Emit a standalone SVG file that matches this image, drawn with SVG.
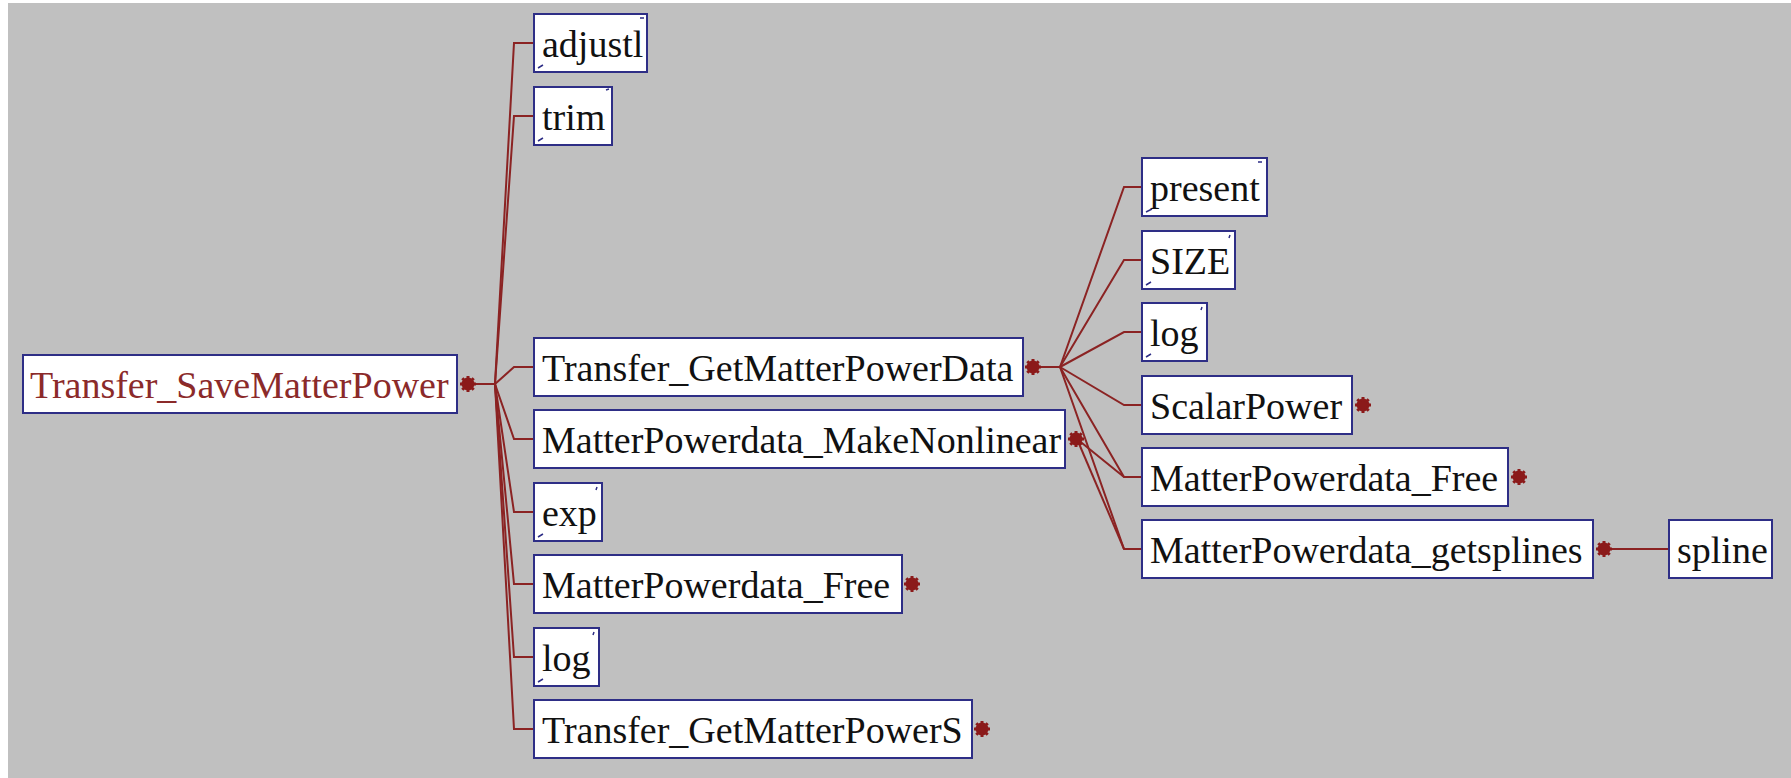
<svg xmlns="http://www.w3.org/2000/svg" width="1791" height="778" viewBox="0 0 1791 778">
<defs>
<style>
.bg{fill:#c0c0c0}
.box{fill:#ffffff;stroke:#2e2e86;stroke-width:2}
.t{font-family:'Liberation Serif','Times New Roman',serif;font-size:38px;fill:#111111}
.root{fill:#8b2a2a}
.ln{fill:none;stroke:#8b2323;stroke-width:2}
.mk{fill:none;stroke:#2e2e86;stroke-width:1.5}
</style>
<g id="cog"><circle r="6.5" fill="#8b1a1a"/><path d="M-8,0H8M0,-8V8M-5.7,-5.7L5.7,5.7M-5.7,5.7L5.7,-5.7" stroke="#8b1a1a" stroke-width="3" fill="none"/></g>
</defs>
<rect x="0" y="0" width="1791" height="778" fill="#ffffff"/>
<rect class="bg" x="8" y="3" width="1783" height="775"/>
<g id="connectors">
<path class="ln" d="M468,384 H495"/>
<path class="ln" d="M495,384 L514,43 H534"/>
<path class="ln" d="M495,384 L514,116 H534"/>
<path class="ln" d="M495,384 L514,367 H534"/>
<path class="ln" d="M495,384 L514,439 H534"/>
<path class="ln" d="M495,384 L514,512 H534"/>
<path class="ln" d="M495,384 L514,584 H534"/>
<path class="ln" d="M495,384 L514,657 H534"/>
<path class="ln" d="M495,384 L514,729 H534"/>
<path class="ln" d="M1033,367 H1060"/>
<path class="ln" d="M1060,367 L1124,187 H1142"/>
<path class="ln" d="M1060,367 L1124,260 H1142"/>
<path class="ln" d="M1060,367 L1124,332 H1142"/>
<path class="ln" d="M1060,367 L1124,405 H1142"/>
<path class="ln" d="M1060,367 L1124,477 H1142"/>
<path class="ln" d="M1060,367 L1124,549 H1142"/>
<path class="ln" d="M1077,439 L1124,477"/>
<path class="ln" d="M1077,439 L1124,549"/>
<path class="ln" d="M1604,549 H1669"/>
</g>
<g id="n_root"><rect class="box" x="23" y="355" width="434" height="58"/><text class="t root" x="30" y="398">Transfer_SaveMatterPower</text><use href="#cog" x="468" y="384"/></g>
<g id="n_adjustl"><rect class="box" x="534" y="14" width="113" height="58"/><text class="t" x="542" y="57">adjustl</text><path class="mk" d="M640,18 l4,0 M538,68 l5,-3"/></g>
<g id="n_trim"><rect class="box" x="534" y="87" width="78" height="58"/><text class="t" x="542" y="130">trim</text><path class="mk" d="M606,90 l3,-1 M538,141 l5,-3"/></g>
<g id="n_tgmpd"><rect class="box" x="534" y="338" width="489" height="58"/><text class="t" x="542" y="381">Transfer_GetMatterPowerData</text><use href="#cog" x="1033" y="367"/></g>
<g id="n_mknl"><rect class="box" x="534" y="410" width="531" height="58"/><text class="t" x="542" y="453">MatterPowerdata_MakeNonlinear</text><use href="#cog" x="1076" y="439"/></g>
<g id="n_exp"><rect class="box" x="534" y="483" width="68" height="58"/><text class="t" x="542" y="526">exp</text><path class="mk" d="M597,487 l-1,3 M538,537 l5,-3"/></g>
<g id="n_free1"><rect class="box" x="534" y="555" width="368" height="58"/><text class="t" x="542" y="598">MatterPowerdata_Free</text><use href="#cog" x="912" y="584"/></g>
<g id="n_log1"><rect class="box" x="534" y="628" width="65" height="58"/><text class="t" x="542" y="671">log</text><path class="mk" d="M594,632 l-1,3 M538,682 l5,-3"/></g>
<g id="n_tgmps"><rect class="box" x="534" y="700" width="438" height="58"/><text class="t" x="542" y="743">Transfer_GetMatterPowerS</text><use href="#cog" x="982" y="729"/></g>
<g id="n_present"><rect class="box" x="1142" y="158" width="125" height="58"/><text class="t" x="1150" y="201">present</text><path class="mk" d="M1258,162 l4,0 M1146,212 l6,-3"/></g>
<g id="n_size"><rect class="box" x="1142" y="231" width="93" height="58"/><text class="t" x="1150" y="274">SIZE</text><path class="mk" d="M1230,235 l-1,3 M1146,285 l5,-3"/></g>
<g id="n_log2"><rect class="box" x="1142" y="303" width="65" height="58"/><text class="t" x="1150" y="346">log</text><path class="mk" d="M1202,307 l-1,3 M1146,357 l5,-3"/></g>
<g id="n_scalar"><rect class="box" x="1142" y="376" width="210" height="58"/><text class="t" x="1150" y="419">ScalarPower</text><use href="#cog" x="1363" y="405"/></g>
<g id="n_free2"><rect class="box" x="1142" y="448" width="366" height="58"/><text class="t" x="1150" y="491">MatterPowerdata_Free</text><use href="#cog" x="1519" y="477"/></g>
<g id="n_getsplines"><rect class="box" x="1142" y="520" width="451" height="58"/><text class="t" x="1150" y="563">MatterPowerdata_getsplines</text><use href="#cog" x="1604" y="549"/></g>
<g id="n_spline"><rect class="box" x="1669" y="520" width="103" height="58"/><text class="t" x="1677" y="563">spline</text></g>
</svg>
